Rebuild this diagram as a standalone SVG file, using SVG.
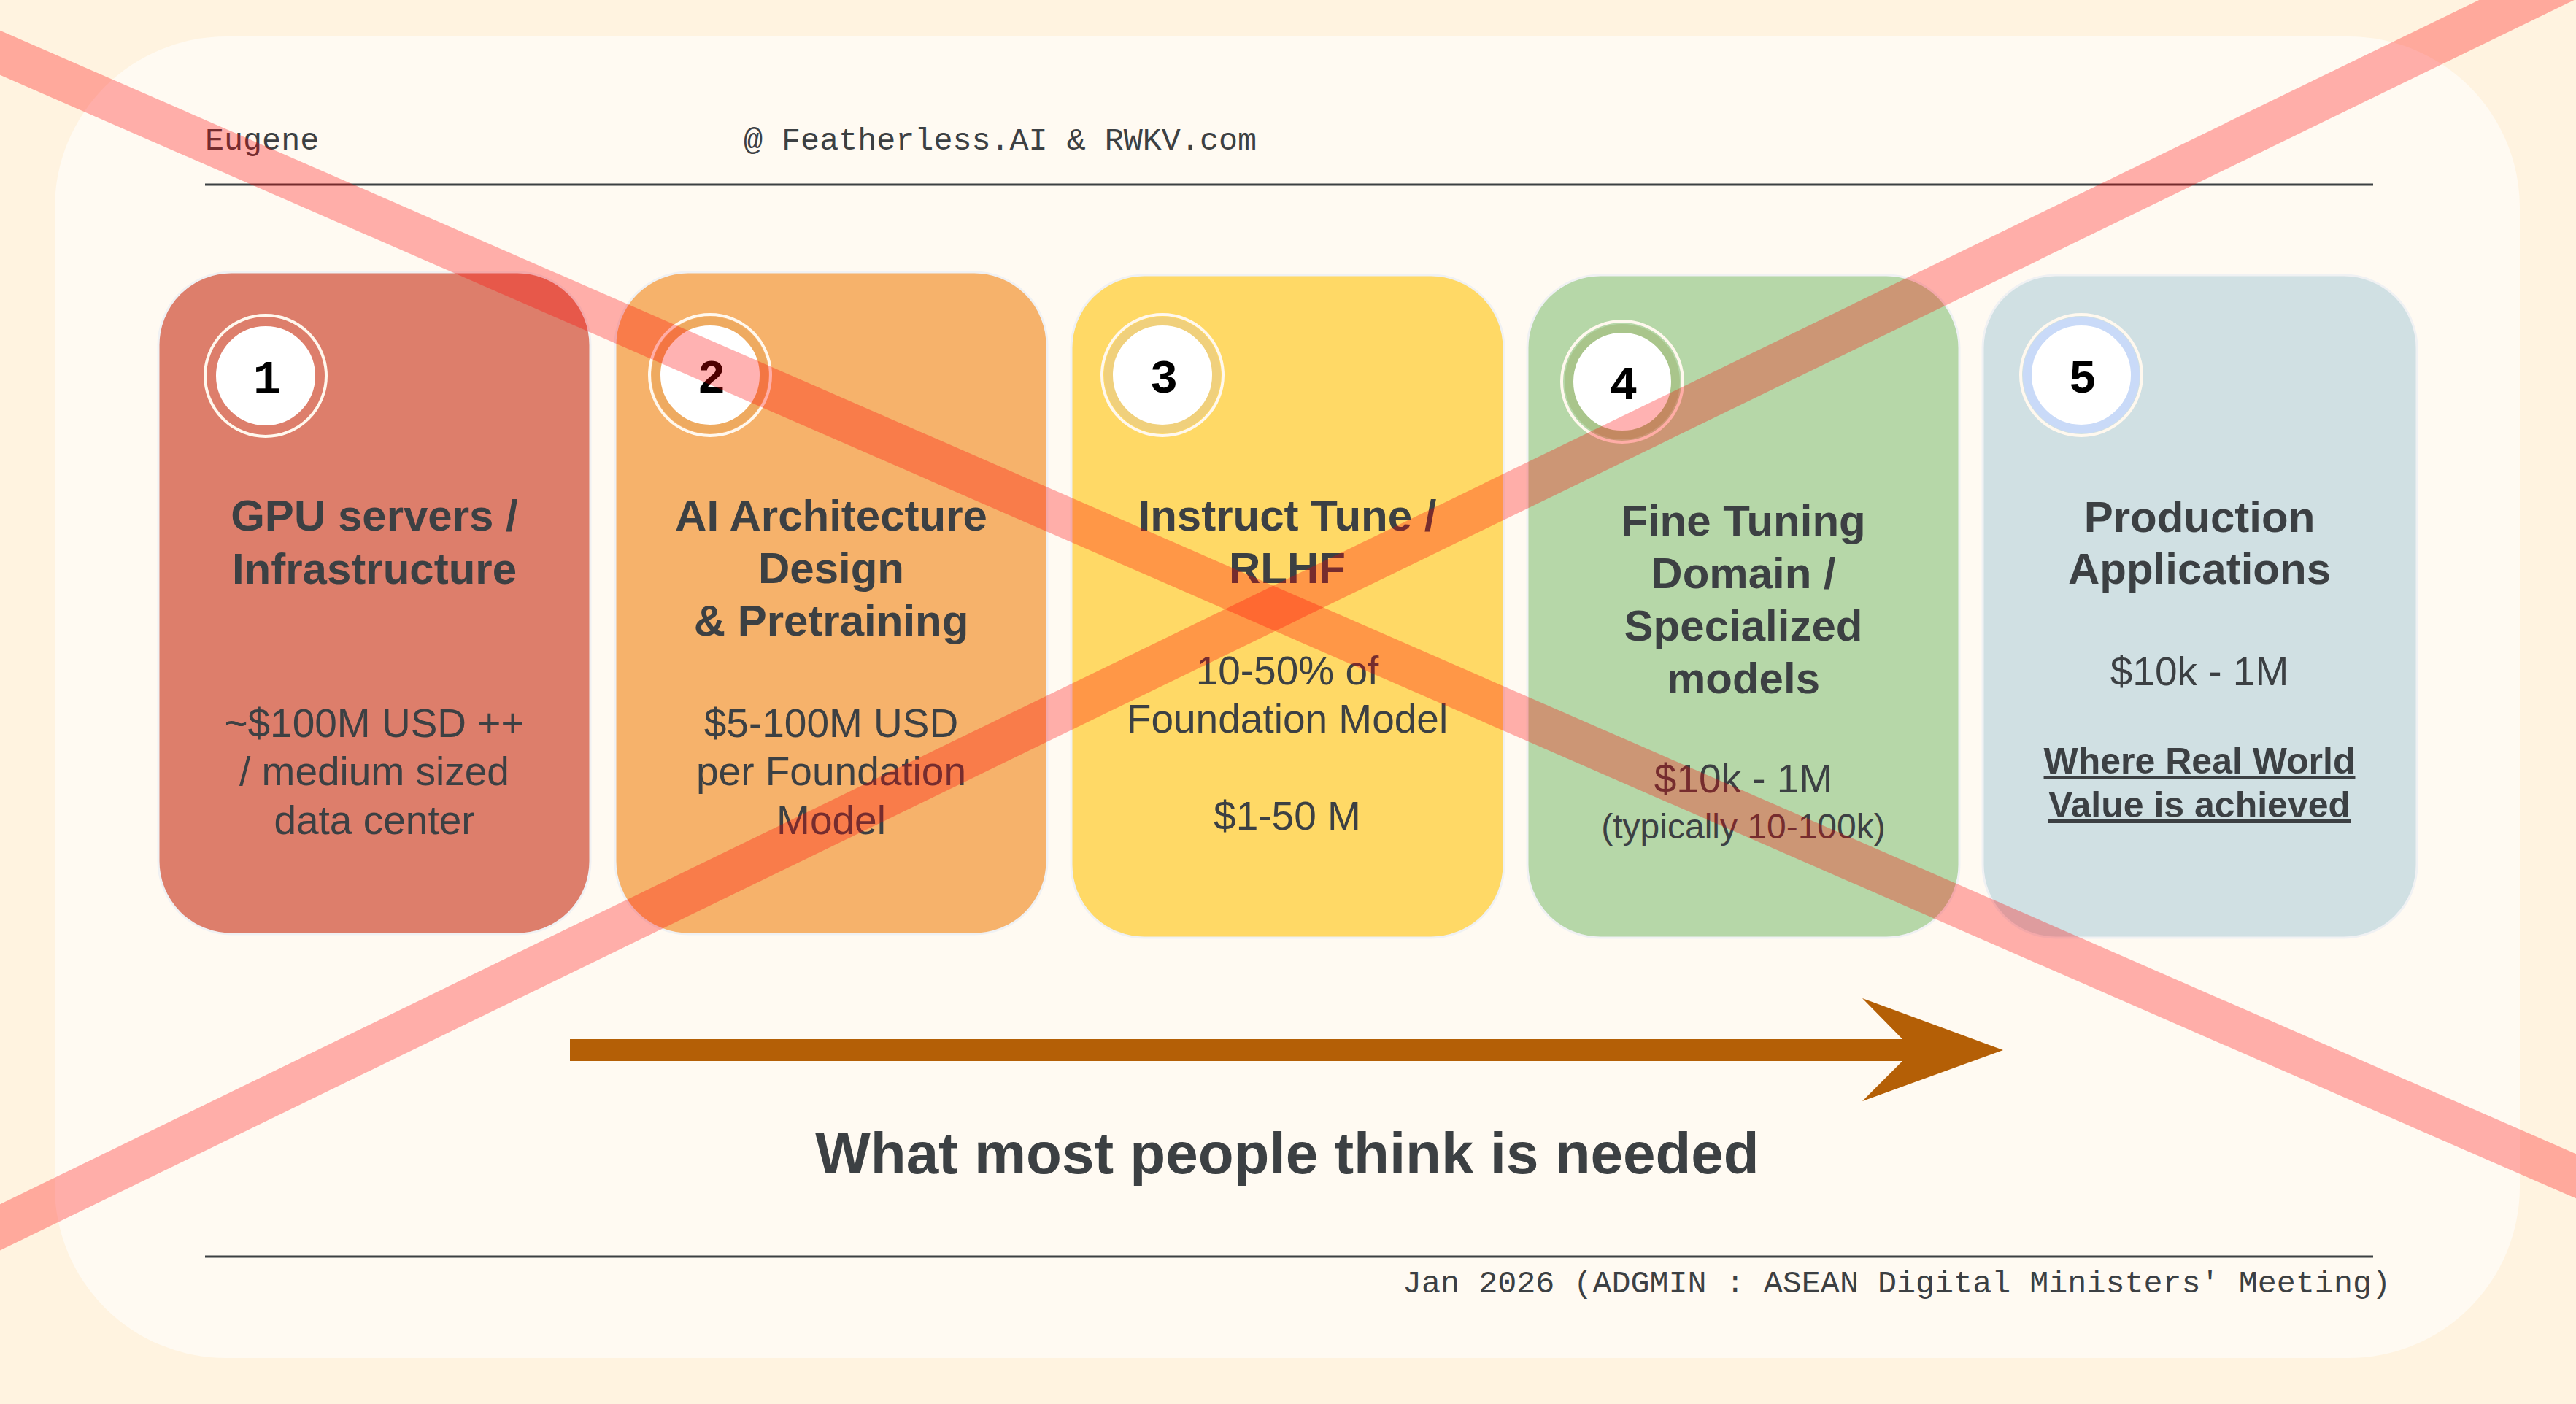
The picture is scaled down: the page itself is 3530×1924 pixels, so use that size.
<svg xmlns="http://www.w3.org/2000/svg" width="3530" height="1924" viewBox="0 0 3530 1924">
<style>
.mono{font-family:"Liberation Mono","DejaVu Sans Mono",monospace;font-size:43.4px;fill:#3c4043}
.card{stroke:#f0f1f3;stroke-width:3}
.num{font-family:"Liberation Mono","DejaVu Sans Mono",monospace;font-weight:bold;font-size:64px;fill:#000;text-anchor:middle}
.title{font-family:"Liberation Sans",Arial,sans-serif;font-weight:bold;font-size:60px;fill:#3c4043;text-anchor:middle}
.body{font-family:"Liberation Sans",Arial,sans-serif;font-size:55px;fill:#3c4043;text-anchor:middle}
.small{font-size:48px}
.ul{font-family:"Liberation Sans",Arial,sans-serif;font-weight:bold;font-size:50px;fill:#3c4043;text-anchor:middle;text-decoration:underline}
.rule{stroke:#3c4043;stroke-width:3}
.cross{stroke:#ff0000;stroke-opacity:0.3;fill:none}
</style>
<rect x="0" y="0" width="3530" height="1924" fill="#fff3e0"/>
<rect x="75" y="50" width="3378" height="1811" rx="235" ry="235" fill="#fffaf2"/>

<g id="header">
<text class="mono" x="281" y="205">Eugene</text>
<text class="mono" x="1019" y="205">@ Featherless.AI &amp; RWKV.com</text>
<line class="rule" x1="281" y1="253" x2="3252" y2="253"/>
</g>

<g id="node1">
<rect class="card" x="217" y="373" width="592" height="907" rx="100" ry="100" fill="#dd7e6b"/>
<circle cx="364" cy="515" r="83" fill="#dd7e6b" stroke="#fff8ee" stroke-width="4"/>
<circle cx="364" cy="515" r="74" fill="#ffffff" stroke="#dd7e6b" stroke-width="12"/>
<text class="num" x="366" y="539">1</text>
<text class="title" x="513" y="727">GPU servers /</text>
<text class="title" x="513" y="800">Infrastructure</text>
<text class="body" x="513" y="1010">~$100M USD ++</text>
<text class="body" x="513" y="1076">/ medium sized</text>
<text class="body" x="513" y="1143">data center</text>
</g>

<g id="node2">
<rect class="card" x="843" y="373" width="592" height="907" rx="100" ry="100" fill="#f6b26b"/>
<circle cx="973" cy="514" r="83" fill="#f6b26b" stroke="#fff8ee" stroke-width="4"/>
<circle cx="973" cy="514" r="74" fill="#ffffff" stroke="#eeaa60" stroke-width="12"/>
<text class="num" x="975" y="538">2</text>
<text class="title" x="1139" y="727">AI Architecture</text>
<text class="title" x="1139" y="799">Design</text>
<text class="title" x="1139" y="871">&amp; Pretraining</text>
<text class="body" x="1139" y="1010">$5-100M USD</text>
<text class="body" x="1139" y="1076">per Foundation</text>
<text class="body" x="1139" y="1143">Model</text>
</g>

<g id="node3">
<rect class="card" x="1468" y="377" width="593" height="908" rx="100" ry="100" fill="#ffd966"/>
<circle cx="1593" cy="514" r="83" fill="#ffd966" stroke="#fff8ee" stroke-width="4"/>
<circle cx="1593" cy="514" r="74" fill="#ffffff" stroke="#f0d07c" stroke-width="12"/>
<text class="num" x="1595" y="538">3</text>
<text class="title" x="1764" y="727">Instruct Tune /</text>
<text class="title" x="1764" y="799">RLHF</text>
<text class="body" x="1764" y="938">10-50% of</text>
<text class="body" x="1764" y="1004">Foundation Model</text>
<text class="body" x="1764" y="1137">$1-50 M</text>
</g>

<g id="node4">
<rect class="card" x="2093" y="377" width="592" height="908" rx="100" ry="100" fill="#b6d7a8"/>
<circle cx="2223" cy="523" r="83" fill="#b6d7a8" stroke="#fff8ee" stroke-width="4"/>
<circle cx="2223" cy="523" r="73" fill="#ffffff" stroke="#a9c58b" stroke-width="12"/>
<text class="num" x="2225" y="547">4</text>
<text class="title" x="2389" y="734">Fine Tuning</text>
<text class="title" x="2389" y="806">Domain /</text>
<text class="title" x="2389" y="878">Specialized</text>
<text class="title" x="2389" y="950">models</text>
<text class="body" x="2389" y="1086">$10k - 1M</text>
<text class="body small" x="2389" y="1149">(typically 10-100k)</text>
</g>

<g id="node5">
<rect class="card" x="2717" y="377" width="595" height="908" rx="100" ry="100" fill="#d0e0e3"/>
<circle cx="2852" cy="514" r="83" fill="#d0e0e3" stroke="#fff8ee" stroke-width="4"/>
<circle cx="2852" cy="514" r="74" fill="#ffffff" stroke="#c9daf8" stroke-width="12"/>
<text class="num" x="2854" y="538">5</text>
<text class="title" x="3014" y="729">Production</text>
<text class="title" x="3014" y="800">Applications</text>
<text class="body" x="3014" y="939">$10k - 1M</text>
<text class="ul" x="3014" y="1060">Where Real World</text>
<text class="ul" x="3014" y="1120">Value is achieved</text>
</g>

<g id="connectors">
<path d="M781,1424 H2607 L2552,1368 L2745,1439 L2552,1509 L2607,1454 H781 Z" fill="#b45f06"/>
</g>

<g id="caption">
<text class="title" style="font-size:80px" x="1764" y="1608">What most people think is needed</text>
</g>

<g id="footer">
<line class="rule" x1="281" y1="1722" x2="3252" y2="1722"/>
<text class="mono" x="1922" y="1771">Jan 2026 (ADGMIN : ASEAN Digital Ministers' Meeting)</text>
</g>

<g id="cross">
<line class="cross" x1="-200" y1="-15" x2="3730" y2="1699" stroke-width="56"/>
<line class="cross" x1="-200" y1="1779" x2="3730" y2="-130" stroke-width="57"/>
</g>
</svg>
